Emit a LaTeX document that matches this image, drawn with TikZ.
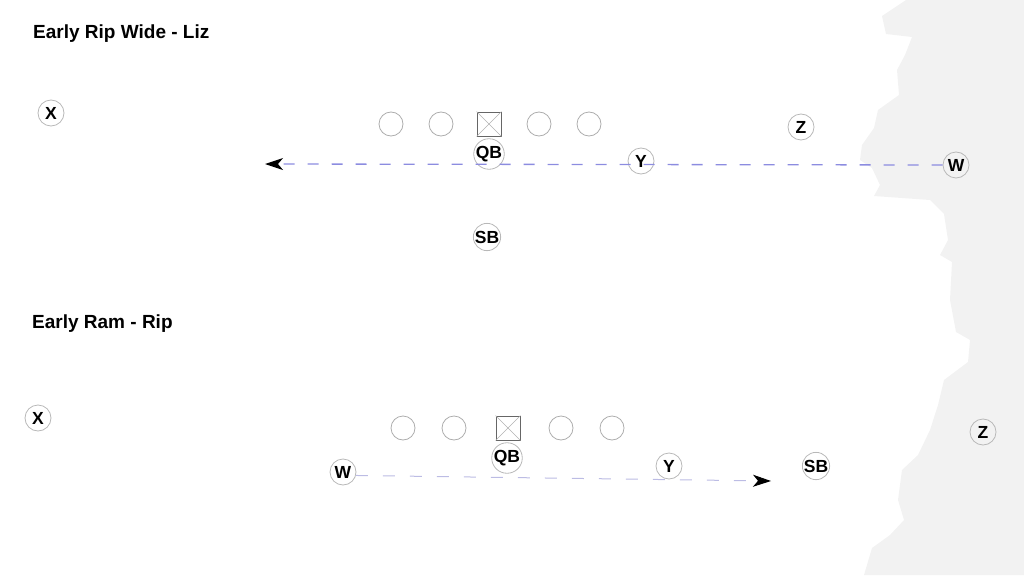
\documentclass[tikz,border=0pt]{standalone}
\usepackage{fontspec}
\setmainfont{Liberation Sans}
\usetikzlibrary{arrows.meta}
\definecolor{paper}{HTML}{F2F2F2}
\definecolor{route}{HTML}{8C8CE0}
\definecolor{routelight}{HTML}{BCBCE4}
\begin{document}
\begin{tikzpicture}[x=1pt, y=-1pt,
    player/.style={circle, draw=black!28, line width=0.8pt, minimum size=26pt, inner sep=0pt,
      font=\fontsize{17.5}{17.5}\selectfont\bfseries},
    lineman/.style={circle, draw=black!32, line width=0.8pt, minimum size=24pt, inner sep=0pt},
    center/.style={rectangle, draw=black!60, line width=0.8pt, minimum size=24pt, inner sep=0pt},
    title/.style={anchor=west, inner sep=0pt, font=\fontsize{19}{19}\selectfont\bfseries},
    tip/.style={-{Stealth[black, length=18pt, width=12pt, inset=5pt]}}]
  \useasboundingbox (0,0) rectangle (1024,575);
  % torn paper edge on the right
  \fill [paper] (906,0) -- (882,16) -- (886,34) -- (912,37) -- (905,55) -- (897,70)
    -- (899,95) -- (878,110) -- (874,128) -- (862,145) -- (860,160) -- (872,168)
    -- (880,185) -- (874,196) -- (930,200) -- (944,214) -- (948,240) -- (940,255)
    -- (952,262) -- (950,300) -- (956,332) -- (970,340) -- (968,362) -- (944,380)
    -- (938,405) -- (930,430) -- (918,455) -- (902,470) -- (898,500) -- (904,520)
    -- (890,535) -- (872,548) -- (864,575) -- (1024,575) -- (1024,0) -- cycle;

  % Early Rip Wide - Liz
  \node [title] (t1) at (33,34) {Early Rip Wide - Liz};
  \node [lineman] (lt1) at (391,124) {};
  \node [lineman] (lg1) at (441,124) {};
  \node [center] (c1) at (489,124) {};
  \draw [black!30, thin] (c1.north west) -- (c1.south east);
  \draw [black!30, thin] (c1.north east) -- (c1.south west);
  \node [lineman] (rg1) at (539,124) {};
  \node [lineman] (rt1) at (589,124) {};
  \node [player] (x1) at (51,113) {X};
  \node [player] (qb1) at (489,154) {QB};
  \node [player] (y1) at (641,161) {Y};
  \node [player] (z1) at (801,127) {Z};
  \node [player] (w1) at (956,165) {W};
  \node [player] (sb1) at (487,237) {SB};
  \coordinate (e1) at (265,164);
  \draw [route, line width=1.3pt, dash pattern=on 11pt off 13pt, tip] (w1.west) -- (e1);

  % Early Ram - Rip
  \node [title] (t2) at (32,324) {Early Ram - Rip};
  \node [lineman] (lt2) at (403,428) {};
  \node [lineman] (lg2) at (454,428) {};
  \node [center] (c2) at (508,428) {};
  \draw [black!30, thin] (c2.north west) -- (c2.south east);
  \draw [black!30, thin] (c2.north east) -- (c2.south west);
  \node [lineman] (rg2) at (561,428) {};
  \node [lineman] (rt2) at (612,428) {};
  \node [player] (x2) at (38,418) {X};
  \node [player] (qb2) at (507,458) {QB};
  \node [player] (w2) at (343,472) {W};
  \node [player] (y2) at (669,466) {Y};
  \node [player] (sb2) at (816,466) {SB};
  \node [player] (z2) at (983,432) {Z};
  \coordinate (e2) at (771,481);
  \draw [routelight, line width=1pt, dash pattern=on 12pt off 15pt, tip] (w2.-15) -- (e2);
\end{tikzpicture}
\end{document}
